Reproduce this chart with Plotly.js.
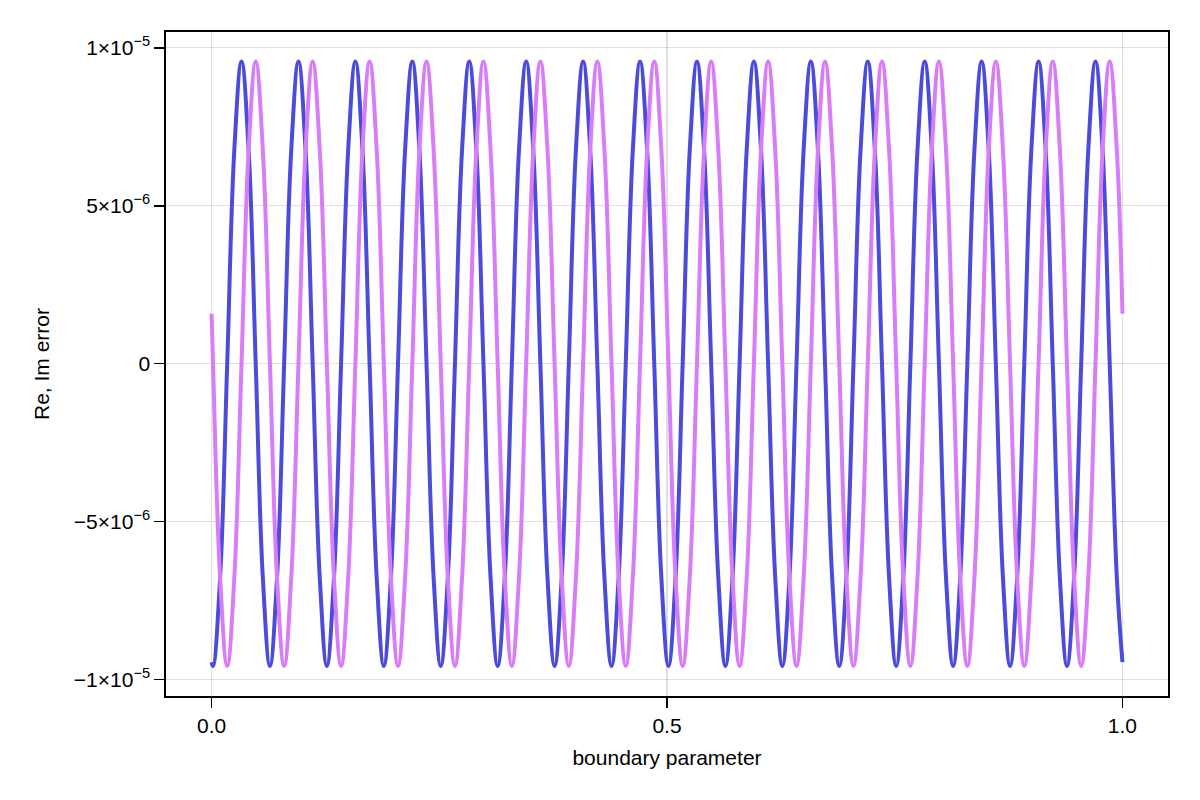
<!DOCTYPE html>
<html>
<head>
<meta charset="utf-8">
<script src="https://cdn.plot.ly/plotly-3.0.1.min.js"></script>
<style>html,body{margin:0;padding:0;background:#fff;}#chart{width:1200px;height:800px;}</style>
</head>
<body>
<div id="chart"></div>
<script>
// boundary parameter samples (extrema, half-amplitude points, crossings)
const boundaryParam = [
  0.0,
  0.0016, 0.0094, 0.0172, 0.0250, 0.0329, 0.0407, 0.0485, 0.0563,
  0.0641, 0.0719, 0.0797, 0.0875, 0.0954, 0.1032, 0.1110, 0.1188,
  0.1266, 0.1344, 0.1422, 0.1500, 0.1579, 0.1657, 0.1735, 0.1813,
  0.1891, 0.1969, 0.2047, 0.2125, 0.2204, 0.2282, 0.2360, 0.2438,
  0.2516, 0.2594, 0.2672, 0.2750, 0.2829, 0.2907, 0.2985, 0.3063,
  0.3141, 0.3219, 0.3297, 0.3375, 0.3454, 0.3532, 0.3610, 0.3688,
  0.3766, 0.3844, 0.3922, 0.4000, 0.4079, 0.4157, 0.4235, 0.4313,
  0.4391, 0.4469, 0.4547, 0.4625, 0.4704, 0.4782, 0.4860, 0.4938,
  0.5016, 0.5094, 0.5172, 0.5250, 0.5329, 0.5407, 0.5485, 0.5563,
  0.5641, 0.5719, 0.5797, 0.5875, 0.5954, 0.6032, 0.6110, 0.6188,
  0.6266, 0.6344, 0.6422, 0.6500, 0.6579, 0.6657, 0.6735, 0.6813,
  0.6891, 0.6969, 0.7047, 0.7125, 0.7204, 0.7282, 0.7360, 0.7438,
  0.7516, 0.7594, 0.7672, 0.7750, 0.7829, 0.7907, 0.7985, 0.8063,
  0.8141, 0.8219, 0.8297, 0.8375, 0.8454, 0.8532, 0.8610, 0.8688,
  0.8766, 0.8844, 0.8922, 0.9000, 0.9079, 0.9157, 0.9235, 0.9313,
  0.9391, 0.9469, 0.9547, 0.9625, 0.9704, 0.9782, 0.9860, 0.9938,
  1.0
];

// real-part error (blue)
const reError = [
  -9.45e-6,
  -9.57e-6, -6.77e-6, 0, 6.77e-6, 9.57e-6, 6.77e-6, 0, -6.77e-6,
  -9.57e-6, -6.77e-6, 0, 6.77e-6, 9.57e-6, 6.77e-6, 0, -6.77e-6,
  -9.57e-6, -6.77e-6, 0, 6.77e-6, 9.57e-6, 6.77e-6, 0, -6.77e-6,
  -9.57e-6, -6.77e-6, 0, 6.77e-6, 9.57e-6, 6.77e-6, 0, -6.77e-6,
  -9.57e-6, -6.77e-6, 0, 6.77e-6, 9.57e-6, 6.77e-6, 0, -6.77e-6,
  -9.57e-6, -6.77e-6, 0, 6.77e-6, 9.57e-6, 6.77e-6, 0, -6.77e-6,
  -9.57e-6, -6.77e-6, 0, 6.77e-6, 9.57e-6, 6.77e-6, 0, -6.77e-6,
  -9.57e-6, -6.77e-6, 0, 6.77e-6, 9.57e-6, 6.77e-6, 0, -6.77e-6,
  -9.57e-6, -6.77e-6, 0, 6.77e-6, 9.57e-6, 6.77e-6, 0, -6.77e-6,
  -9.57e-6, -6.77e-6, 0, 6.77e-6, 9.57e-6, 6.77e-6, 0, -6.77e-6,
  -9.57e-6, -6.77e-6, 0, 6.77e-6, 9.57e-6, 6.77e-6, 0, -6.77e-6,
  -9.57e-6, -6.77e-6, 0, 6.77e-6, 9.57e-6, 6.77e-6, 0, -6.77e-6,
  -9.57e-6, -6.77e-6, 0, 6.77e-6, 9.57e-6, 6.77e-6, 0, -6.77e-6,
  -9.57e-6, -6.77e-6, 0, 6.77e-6, 9.57e-6, 6.77e-6, 0, -6.77e-6,
  -9.57e-6, -6.77e-6, 0, 6.77e-6, 9.57e-6, 6.77e-6, 0, -6.77e-6,
  -9.57e-6, -6.77e-6, 0, 6.77e-6, 9.57e-6, 6.77e-6, 0, -6.77e-6,
  -9.45e-6
];

// imaginary-part error (pink)
const imError = [
  1.58e-6,
  0, -6.77e-6, -9.57e-6, -6.77e-6, 0, 6.77e-6, 9.57e-6, 6.77e-6,
  0, -6.77e-6, -9.57e-6, -6.77e-6, 0, 6.77e-6, 9.57e-6, 6.77e-6,
  0, -6.77e-6, -9.57e-6, -6.77e-6, 0, 6.77e-6, 9.57e-6, 6.77e-6,
  0, -6.77e-6, -9.57e-6, -6.77e-6, 0, 6.77e-6, 9.57e-6, 6.77e-6,
  0, -6.77e-6, -9.57e-6, -6.77e-6, 0, 6.77e-6, 9.57e-6, 6.77e-6,
  0, -6.77e-6, -9.57e-6, -6.77e-6, 0, 6.77e-6, 9.57e-6, 6.77e-6,
  0, -6.77e-6, -9.57e-6, -6.77e-6, 0, 6.77e-6, 9.57e-6, 6.77e-6,
  0, -6.77e-6, -9.57e-6, -6.77e-6, 0, 6.77e-6, 9.57e-6, 6.77e-6,
  0, -6.77e-6, -9.57e-6, -6.77e-6, 0, 6.77e-6, 9.57e-6, 6.77e-6,
  0, -6.77e-6, -9.57e-6, -6.77e-6, 0, 6.77e-6, 9.57e-6, 6.77e-6,
  0, -6.77e-6, -9.57e-6, -6.77e-6, 0, 6.77e-6, 9.57e-6, 6.77e-6,
  0, -6.77e-6, -9.57e-6, -6.77e-6, 0, 6.77e-6, 9.57e-6, 6.77e-6,
  0, -6.77e-6, -9.57e-6, -6.77e-6, 0, 6.77e-6, 9.57e-6, 6.77e-6,
  0, -6.77e-6, -9.57e-6, -6.77e-6, 0, 6.77e-6, 9.57e-6, 6.77e-6,
  0, -6.77e-6, -9.57e-6, -6.77e-6, 0, 6.77e-6, 9.57e-6, 6.77e-6,
  0, -6.77e-6, -9.57e-6, -6.77e-6, 0, 6.77e-6, 9.57e-6, 6.77e-6,
  1.58e-6
];

const xTickVals = [0, 0.5, 1];
const xTickText = ['0.0', '0.5', '1.0'];
const yTickVals = [-1e-5, -5e-6, 0, 5e-6, 1e-5];
const yTickText = ['−1×10<sup>−5</sup>', '−5×10<sup>−6</sup>', '0', '5×10<sup>−6</sup>', '1×10<sup>−5</sup>'];

const FONT = 'Liberation Sans, Arial, Helvetica, sans-serif';

const traces = [
  {x: boundaryParam, y: reError, type: 'scatter', mode: 'lines', name: 'Re',
   line: {color: '#4b4bdc', width: 4, shape: 'spline', smoothing: 1.1}},
  {x: boundaryParam, y: imError, type: 'scatter', mode: 'lines', name: 'Im',
   line: {color: '#d97cf7', width: 4, shape: 'spline', smoothing: 1.1}}
];

const axisCommon = {
  showline: true, mirror: true, linecolor: '#000', linewidth: 1.6,
  ticks: 'outside', ticklen: 10, tickwidth: 1.6, tickcolor: '#000',
  showgrid: true, gridcolor: 'rgba(0,0,0,0.12)', gridwidth: 1.3,
  zeroline: false,
  tickfont: {family: FONT, size: 21, color: '#000'}
};

const layout = {
  width: 1200, height: 800,
  paper_bgcolor: '#fff', plot_bgcolor: '#fff',
  showlegend: false,
  margin: {l: 166, r: 32, t: 32, b: 104, pad: 0},
  font: {family: FONT, size: 21, color: '#000'},
  xaxis: Object.assign({}, axisCommon, {
    range: [-0.05, 1.05], tickmode: 'array', tickvals: xTickVals, ticktext: xTickText,
    title: {text: 'boundary parameter', font: {family: FONT, size: 21, color: '#000'}, standoff: 14}
  }),
  yaxis: Object.assign({}, axisCommon, {
    range: [-10.52e-6, 10.5e-6], tickmode: 'array', tickvals: yTickVals, ticktext: yTickText,
    title: {text: 'Re, Im error', font: {family: FONT, size: 21, color: '#000'}, standoff: 18}
  })
};

Plotly.newPlot('chart', traces, layout, {displayModeBar: false, staticPlot: true});
</script>
</body>
</html>
